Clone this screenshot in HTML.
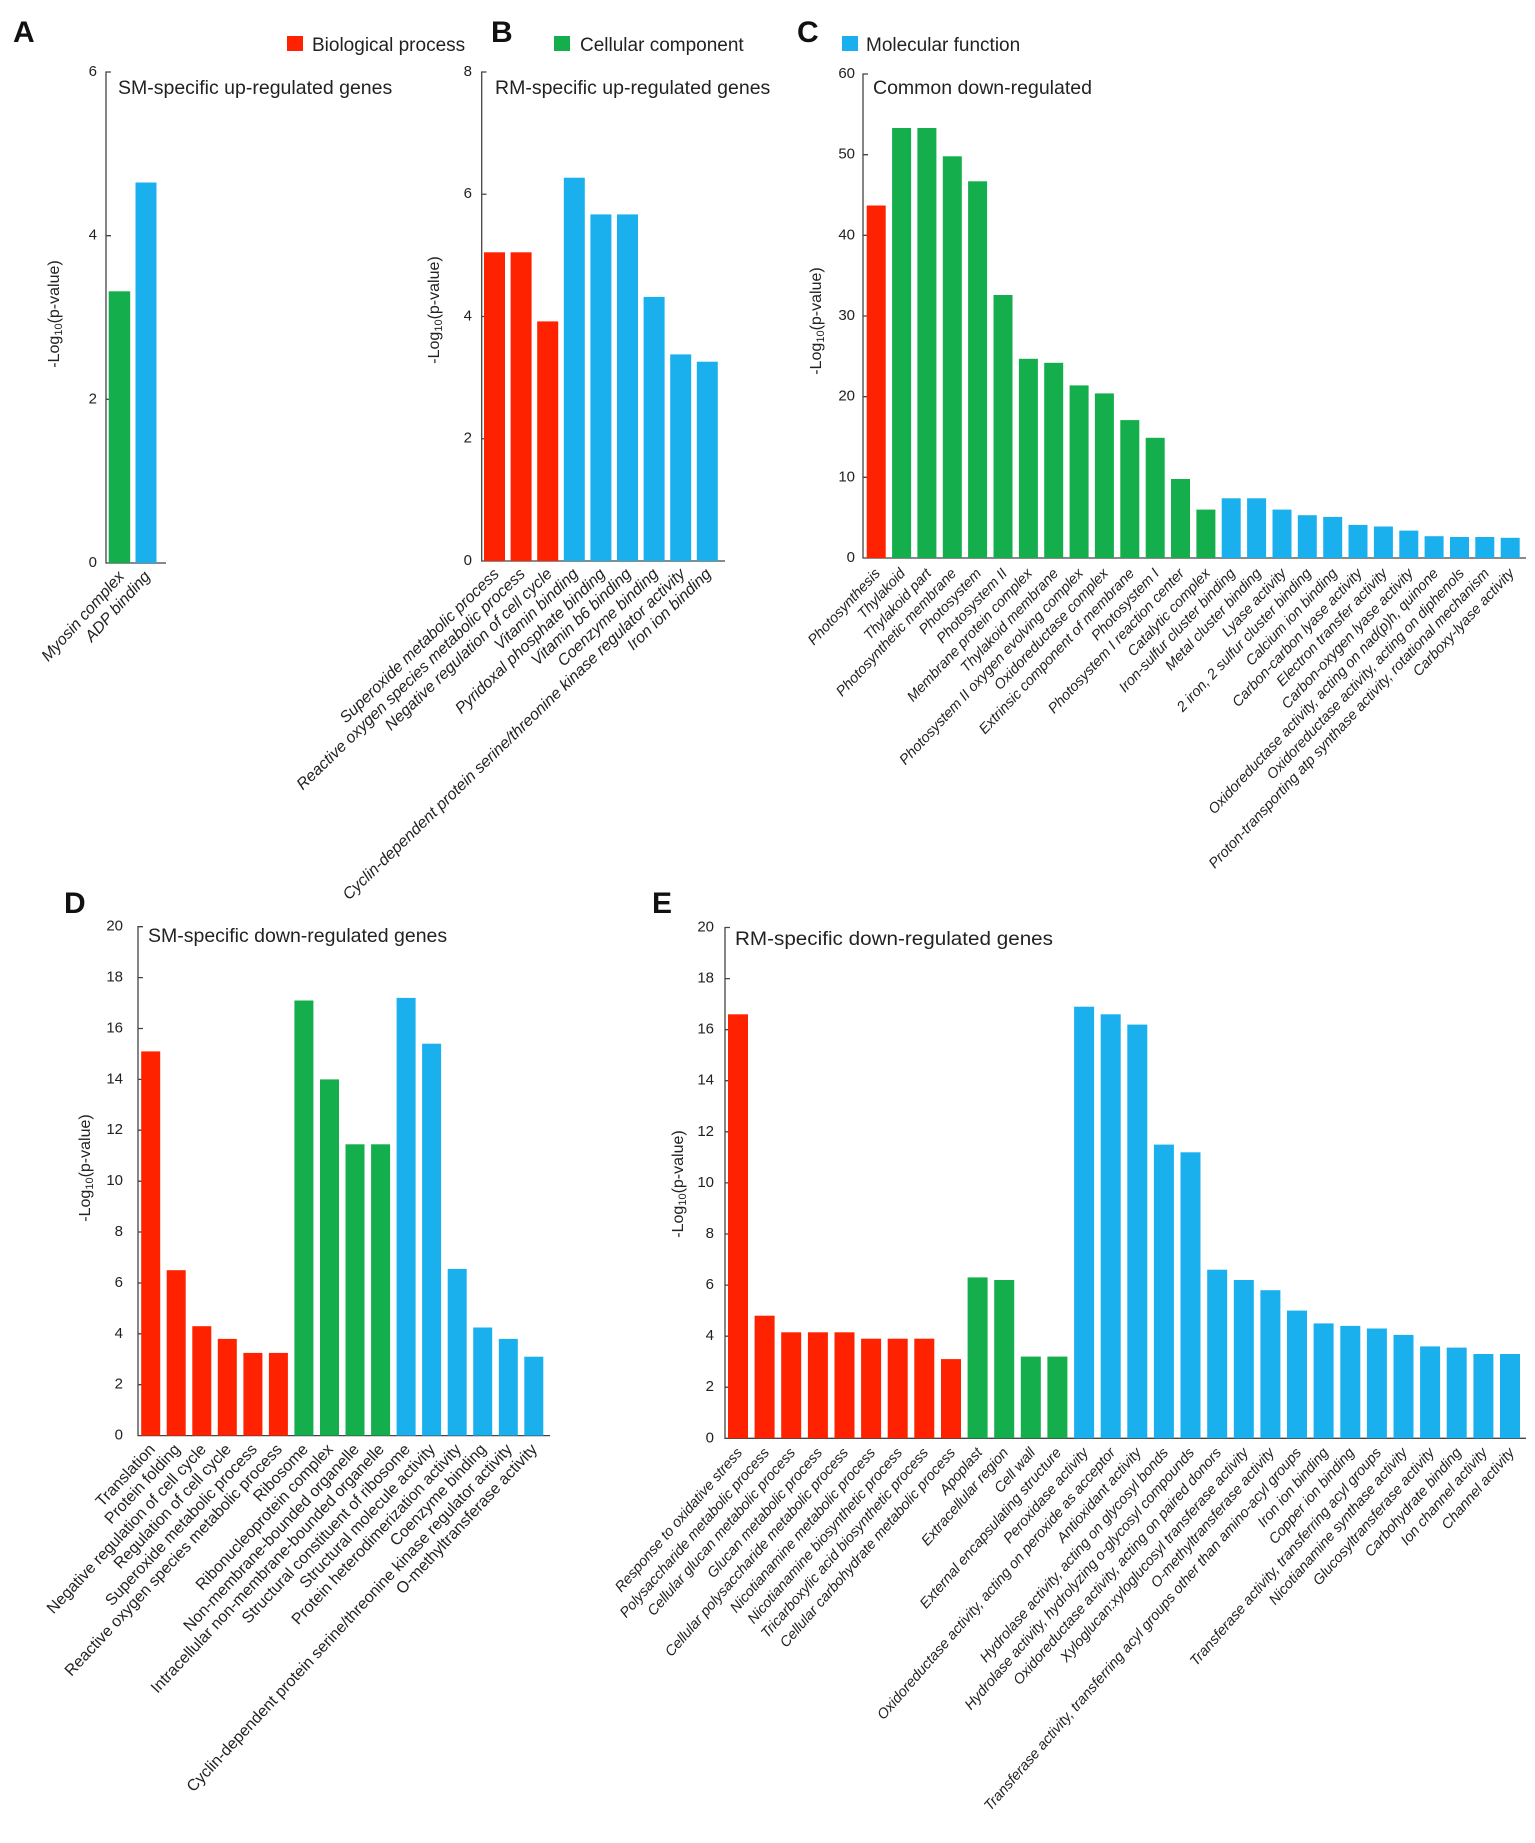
<!DOCTYPE html>
<html><head><meta charset="utf-8"><style>
html,body{margin:0;padding:0;background:#fff;}
svg{display:block;font-family:"Liberation Sans",Arial,sans-serif;}
.t{font-size:15px;fill:#222;text-anchor:end;dominant-baseline:middle;}
.ti{font-size:19.5px;fill:#222;}
.yl{font-size:16px;fill:#222;text-anchor:middle;}
.lb{font-size:16px;fill:#222;text-anchor:end;font-style:italic;}
.ln{font-size:16px;fill:#222;text-anchor:end;}
.L{font-size:30px;font-weight:bold;fill:#111;}
.lg{font-size:19px;fill:#222;}
.r{fill:#ff2200}.g{fill:#14ae4c}.b{fill:#1ab0ee}
.ax{stroke:#444;stroke-width:1.3;fill:none;}
</style></head><body>
<svg width="1535" height="1843" viewBox="0 0 1535 1843" xmlns="http://www.w3.org/2000/svg">
<text class="L" x="13" y="42">A</text>
<text class="L" x="491" y="42">B</text>
<text class="L" x="797" y="42">C</text>
<text class="L" x="64" y="913">D</text>
<text class="L" x="652" y="913">E</text>
<rect class="r" x="287" y="36" width="16" height="15"/><text class="lg" x="312" y="51">Biological process</text>
<rect class="g" x="554" y="36" width="16" height="15"/><text class="lg" x="580" y="51">Cellular component</text>
<rect class="b" x="842" y="36" width="16" height="15"/><text class="lg" x="866" y="51">Molecular function</text>

<!-- Panel A -->
<path class="ax" d="M111 72H106V563H166M106 235.7H111M106 399.3H111"/>
<text class="t" x="97" y="72">6</text><text class="t" x="97" y="235.7">4</text><text class="t" x="97" y="399.3">2</text><text class="t" x="97" y="563">0</text>
<text class="ti" x="118" y="94">SM-specific up-regulated genes</text>
<text class="yl" transform="translate(59,314) rotate(-90)">-Log<tspan font-size="11" dy="3">10</tspan><tspan dy="-3">(p-value)</tspan></text>
<rect class="g" x="108.7" y="291.3" width="21.5" height="271.7"/>
<rect class="b" x="135.5" y="182.5" width="21" height="380.5"/>
<text class="lb" transform="translate(125,577) rotate(-48)">Myosin complex</text>
<text class="lb" transform="translate(151,577) rotate(-48)">ADP binding</text>

<!-- Panel B -->
<path class="ax" d="M486.5 72H481.7V561H725M481.7 194.25H486.5M481.7 316.5H486.5M481.7 438.75H486.5"/>
<text class="t" x="472" y="72">8</text><text class="t" x="472" y="194.25">6</text><text class="t" x="472" y="316.5">4</text><text class="t" x="472" y="438.75">2</text><text class="t" x="472" y="561">0</text>
<text class="ti" x="495" y="94">RM-specific up-regulated genes</text>
<text class="yl" transform="translate(439,310) rotate(-90)">-Log<tspan font-size="11" dy="3">10</tspan><tspan dy="-3">(p-value)</tspan></text>
<rect class="r" x="484" y="252.3" width="21" height="308.7"/>
<rect class="r" x="510.6" y="252.3" width="21" height="308.7"/>
<rect class="r" x="537.2" y="321.4" width="21" height="239.6"/>
<rect class="b" x="563.8" y="177.7" width="21" height="383.3"/>
<rect class="b" x="590.4" y="214.4" width="21" height="346.6"/>
<rect class="b" x="617" y="214.4" width="21" height="346.6"/>
<rect class="b" x="643.6" y="296.9" width="21" height="264.1"/>
<rect class="b" x="670.2" y="354.4" width="21" height="206.6"/>
<rect class="b" x="696.8" y="361.7" width="21" height="199.3"/>
<text class="lb" transform="translate(500,575) rotate(-44)">Superoxide metabolic process</text>
<text class="lb" transform="translate(526,575) rotate(-44)">Reactive oxygen species metabolic process</text>
<text class="lb" transform="translate(553,575) rotate(-44)">Negative regulation of cell cycle</text>
<text class="lb" transform="translate(579,575) rotate(-44)">Vitamin binding</text>
<text class="lb" transform="translate(606,575) rotate(-44)">Pyridoxal phosphate binding</text>
<text class="lb" transform="translate(632,575) rotate(-44)">Vitamin b6 binding</text>
<text class="lb" transform="translate(659,575) rotate(-44)">Coenzyme binding</text>
<text class="lb" transform="translate(686,575) rotate(-44)">Cyclin-dependent protein serine/threonine kinase regulator activity</text>
<text class="lb" transform="translate(712,575) rotate(-44)">Iron ion binding</text>

<!-- Panel C -->
<path class="ax" d="M868 74H863V558H1526M863 154.7H868M863 235.3H868M863 316H868M863 396.7H868M863 477.3H868"/>
<text class="t" x="855" y="74">60</text><text class="t" x="855" y="154.7">50</text><text class="t" x="855" y="235.3">40</text><text class="t" x="855" y="316">30</text><text class="t" x="855" y="396.7">20</text><text class="t" x="855" y="477.3">10</text><text class="t" x="855" y="558">0</text>
<text class="ti" x="873" y="94">Common down-regulated</text>
<text class="yl" transform="translate(821,321) rotate(-90)">-Log<tspan font-size="11" dy="3">10</tspan><tspan dy="-3">(p-value)</tspan></text>
<g>
<rect class="r" x="866.7" y="205.5" width="19" height="352.5"/>
<rect class="g" x="892.1" y="128" width="19" height="430"/>
<rect class="g" x="917.4" y="128" width="19" height="430"/>
<rect class="g" x="942.8" y="156.3" width="19" height="401.7"/>
<rect class="g" x="968.1" y="181.3" width="19" height="376.7"/>
<rect class="g" x="993.5" y="295" width="19" height="263"/>
<rect class="g" x="1018.9" y="358.8" width="19" height="199.2"/>
<rect class="g" x="1044.2" y="362.8" width="19" height="195.2"/>
<rect class="g" x="1069.6" y="385.4" width="19" height="172.6"/>
<rect class="g" x="1094.9" y="393.4" width="19" height="164.6"/>
<rect class="g" x="1120.3" y="420.1" width="19" height="137.9"/>
<rect class="g" x="1145.7" y="437.8" width="19" height="120.2"/>
<rect class="g" x="1171" y="479" width="19" height="79"/>
<rect class="g" x="1196.4" y="509.6" width="19" height="48.4"/>
<rect class="b" x="1221.7" y="498.3" width="19" height="59.7"/>
<rect class="b" x="1247.1" y="498.3" width="19" height="59.7"/>
<rect class="b" x="1272.5" y="509.6" width="19" height="48.4"/>
<rect class="b" x="1297.8" y="515.2" width="19" height="42.8"/>
<rect class="b" x="1323.2" y="516.9" width="19" height="41.1"/>
<rect class="b" x="1348.5" y="524.9" width="19" height="33.1"/>
<rect class="b" x="1373.9" y="526.5" width="19" height="31.5"/>
<rect class="b" x="1399.3" y="530.6" width="19" height="27.4"/>
<rect class="b" x="1424.6" y="536.2" width="19" height="21.8"/>
<rect class="b" x="1450" y="537" width="19" height="21"/>
<rect class="b" x="1475.3" y="537" width="19" height="21"/>
<rect class="b" x="1500.7" y="537.8" width="19" height="20.2"/>
</g>
<g style="font-size:14.5px">
<text class="lb" style="font-size:14.5px" transform="translate(881,574) rotate(-47)">Photosynthesis</text>
<text class="lb" style="font-size:14.5px" transform="translate(906,574) rotate(-47)">Thylakoid</text>
<text class="lb" style="font-size:14.5px" transform="translate(932,574) rotate(-47)">Thylakoid part</text>
<text class="lb" style="font-size:14.5px" transform="translate(957,574) rotate(-47)">Photosynthetic membrane</text>
<text class="lb" style="font-size:14.5px" transform="translate(982,574) rotate(-47)">Photosystem</text>
<text class="lb" style="font-size:14.5px" transform="translate(1008,574) rotate(-47)">Photosystem II</text>
<text class="lb" style="font-size:14.5px" transform="translate(1033,574) rotate(-47)">Membrane protein complex</text>
<text class="lb" style="font-size:14.5px" transform="translate(1059,574) rotate(-47)">Thylakoid membrane</text>
<text class="lb" style="font-size:14.5px" transform="translate(1084,574) rotate(-47)">Photosystem II oxygen evolving complex</text>
<text class="lb" style="font-size:14.5px" transform="translate(1109,574) rotate(-47)">Oxidoreductase complex</text>
<text class="lb" style="font-size:14.5px" transform="translate(1135,574) rotate(-47)">Extrinsic component of membrane</text>
<text class="lb" style="font-size:14.5px" transform="translate(1160,574) rotate(-47)">Photosystem I</text>
<text class="lb" style="font-size:14.5px" transform="translate(1185,574) rotate(-47)">Photosystem I reaction center</text>
<text class="lb" style="font-size:14.5px" transform="translate(1211,574) rotate(-47)">Catalytic complex</text>
<text class="lb" style="font-size:14.5px" transform="translate(1236,574) rotate(-47)">Iron-sulfur cluster binding</text>
<text class="lb" style="font-size:14.5px" transform="translate(1262,574) rotate(-47)">Metal cluster binding</text>
<text class="lb" style="font-size:14.5px" transform="translate(1287,574) rotate(-47)">Lyase activity</text>
<text class="lb" style="font-size:14.5px" transform="translate(1312,574) rotate(-47)">2 iron, 2 sulfur cluster binding</text>
<text class="lb" style="font-size:14.5px" transform="translate(1338,574) rotate(-47)">Calcium ion binding</text>
<text class="lb" style="font-size:14.5px" transform="translate(1363,574) rotate(-47)">Carbon-carbon lyase activity</text>
<text class="lb" style="font-size:14.5px" transform="translate(1388,574) rotate(-47)">Electron transfer activity</text>
<text class="lb" style="font-size:14.5px" transform="translate(1414,574) rotate(-47)">Carbon-oxygen lyase activity</text>
<text class="lb" style="font-size:14.5px" transform="translate(1439,574) rotate(-47)">Oxidoreductase activity, acting on nad(p)h, quinone</text>
<text class="lb" style="font-size:14.5px" transform="translate(1465,574) rotate(-47)">Oxidoreductase activity, acting on diphenols</text>
<text class="lb" style="font-size:14.5px" transform="translate(1490,574) rotate(-47)">Proton-transporting atp synthase activity, rotational mechanism</text>
<text class="lb" style="font-size:14.5px" transform="translate(1515,574) rotate(-47)">Carboxy-lyase activity</text>
</g>

<!-- Panel D -->
<path class="ax" d="M143 926.7H138V1435.6H550M138 977.6H143M138 1028.5H143M138 1079.4H143M138 1130.2H143M138 1181.2H143M138 1232H143M138 1283H143M138 1333.8H143M138 1384.7H143"/>
<text class="t" x="123" y="926.7">20</text><text class="t" x="123" y="977.6">18</text><text class="t" x="123" y="1028.5">16</text><text class="t" x="123" y="1079.4">14</text><text class="t" x="123" y="1130.2">12</text><text class="t" x="123" y="1181.2">10</text><text class="t" x="123" y="1232">8</text><text class="t" x="123" y="1283">6</text><text class="t" x="123" y="1333.8">4</text><text class="t" x="123" y="1384.7">2</text><text class="t" x="123" y="1435.6">0</text>
<text class="ti" x="148" y="942">SM-specific down-regulated genes</text>
<text class="yl" transform="translate(90,1168) rotate(-90)">-Log<tspan font-size="11" dy="3">10</tspan><tspan dy="-3">(p-value)</tspan></text>
<rect class="r" x="141.2" y="1051.4" width="19" height="384.2"/>
<rect class="r" x="166.7" y="1270.2" width="19" height="165.4"/>
<rect class="r" x="192.3" y="1326.2" width="19" height="109.4"/>
<rect class="r" x="217.8" y="1338.9" width="19" height="96.7"/>
<rect class="r" x="243.4" y="1352.9" width="19" height="82.7"/>
<rect class="r" x="268.9" y="1352.9" width="19" height="82.7"/>
<rect class="g" x="294.4" y="1000.5" width="19" height="435.1"/>
<rect class="g" x="320" y="1079.4" width="19" height="356.2"/>
<rect class="g" x="345.5" y="1144.3" width="19" height="291.3"/>
<rect class="g" x="371.1" y="1144.3" width="19" height="291.3"/>
<rect class="b" x="396.6" y="997.9" width="19" height="437.7"/>
<rect class="b" x="422.1" y="1043.7" width="19" height="391.9"/>
<rect class="b" x="447.7" y="1268.9" width="19" height="166.7"/>
<rect class="b" x="473.2" y="1327.5" width="19" height="108.1"/>
<rect class="b" x="498.8" y="1338.9" width="19" height="96.7"/>
<rect class="b" x="524.3" y="1356.7" width="19" height="78.9"/>
<text class="ln" transform="translate(156,1450) rotate(-47)">Translation</text>
<text class="ln" transform="translate(181,1450) rotate(-47)">Protein folding</text>
<text class="ln" transform="translate(207,1450) rotate(-47)">Negative regulation of cell cycle</text>
<text class="ln" transform="translate(232,1450) rotate(-47)">Regulation of cell cycle</text>
<text class="ln" transform="translate(258,1450) rotate(-47)">Superoxide metabolic process</text>
<text class="ln" transform="translate(283,1450) rotate(-47)">Reactive oxygen species metabolic process</text>
<text class="ln" transform="translate(309,1450) rotate(-47)">Ribosome</text>
<text class="ln" transform="translate(334,1450) rotate(-47)">Ribonucleoprotein complex</text>
<text class="ln" transform="translate(360,1450) rotate(-47)">Non-membrane-bounded organelle</text>
<text class="ln" transform="translate(385,1450) rotate(-47)">Intracellular non-membrane-bounded organelle</text>
<text class="ln" transform="translate(411,1450) rotate(-47)">Structural constituent of ribosome</text>
<text class="ln" transform="translate(436,1450) rotate(-47)">Structural molecule activity</text>
<text class="ln" transform="translate(462,1450) rotate(-47)">Protein heterodimerization activity</text>
<text class="ln" transform="translate(487,1450) rotate(-47)">Coenzyme binding</text>
<text class="ln" transform="translate(513,1450) rotate(-47)">Cyclin-dependent protein serine/threonine kinase regulator activity</text>
<text class="ln" transform="translate(538,1450) rotate(-47)">O-methyltransferase activity</text>

<!-- Panel E -->
<path class="ax" d="M730 927.5H725V1438.3H1526M725 978.6H730M725 1029.7H730M725 1080.7H730M725 1131.8H730M725 1182.9H730M725 1234H730M725 1285.1H730M725 1336.2H730M725 1387.2H730"/>
<text class="t" x="714" y="927.5">20</text><text class="t" x="714" y="978.6">18</text><text class="t" x="714" y="1029.7">16</text><text class="t" x="714" y="1080.7">14</text><text class="t" x="714" y="1131.8">12</text><text class="t" x="714" y="1182.9">10</text><text class="t" x="714" y="1234">8</text><text class="t" x="714" y="1285.1">6</text><text class="t" x="714" y="1336.2">4</text><text class="t" x="714" y="1387.2">2</text><text class="t" x="714" y="1438.3">0</text>
<text class="ti" x="735" y="945" textLength="318" lengthAdjust="spacingAndGlyphs">RM-specific down-regulated genes</text>
<text class="yl" transform="translate(683,1184) rotate(-90)">-Log<tspan font-size="11" dy="3">10</tspan><tspan dy="-3">(p-value)</tspan></text>
<rect class="r" x="728" y="1014.3" width="20" height="424"/>
<rect class="r" x="754.6" y="1315.7" width="20" height="122.6"/>
<rect class="r" x="781.2" y="1332.3" width="20" height="106"/>
<rect class="r" x="807.9" y="1332.3" width="20" height="106"/>
<rect class="r" x="834.5" y="1332.3" width="20" height="106"/>
<rect class="r" x="861.1" y="1338.7" width="20" height="99.6"/>
<rect class="r" x="887.7" y="1338.7" width="20" height="99.6"/>
<rect class="r" x="914.3" y="1338.7" width="20" height="99.6"/>
<rect class="r" x="941" y="1359.1" width="20" height="79.2"/>
<rect class="g" x="967.6" y="1277.4" width="20" height="160.9"/>
<rect class="g" x="994.2" y="1280" width="20" height="158.3"/>
<rect class="g" x="1020.8" y="1356.6" width="20" height="81.7"/>
<rect class="g" x="1047.4" y="1356.6" width="20" height="81.7"/>
<rect class="b" x="1074.1" y="1006.7" width="20" height="431.6"/>
<rect class="b" x="1100.7" y="1014.3" width="20" height="424"/>
<rect class="b" x="1127.3" y="1024.6" width="20" height="413.7"/>
<rect class="b" x="1153.9" y="1144.6" width="20" height="293.7"/>
<rect class="b" x="1180.5" y="1152.3" width="20" height="286"/>
<rect class="b" x="1207.2" y="1269.7" width="20" height="168.6"/>
<rect class="b" x="1233.8" y="1280" width="20" height="158.3"/>
<rect class="b" x="1260.4" y="1290.2" width="20" height="148.1"/>
<rect class="b" x="1287" y="1310.6" width="20" height="127.7"/>
<rect class="b" x="1313.6" y="1323.4" width="20" height="114.9"/>
<rect class="b" x="1340.3" y="1325.9" width="20" height="112.4"/>
<rect class="b" x="1366.9" y="1328.5" width="20" height="109.8"/>
<rect class="b" x="1393.5" y="1334.9" width="20" height="103.4"/>
<rect class="b" x="1420.1" y="1346.4" width="20" height="91.9"/>
<rect class="b" x="1446.7" y="1347.6" width="20" height="90.7"/>
<rect class="b" x="1473.4" y="1354" width="20" height="84.3"/>
<rect class="b" x="1500" y="1354" width="20" height="84.3"/>
<g>
<text class="lb" style="font-size:14.5px" transform="translate(743,1453) rotate(-49)">Response to oxidative stress</text>
<text class="lb" style="font-size:14.5px" transform="translate(770,1453) rotate(-49)">Polysaccharide metabolic process</text>
<text class="lb" style="font-size:14.5px" transform="translate(796,1453) rotate(-49)">Cellular glucan metabolic process</text>
<text class="lb" style="font-size:14.5px" transform="translate(823,1453) rotate(-49)">Glucan metabolic process</text>
<text class="lb" style="font-size:14.5px" transform="translate(849,1453) rotate(-49)">Cellular polysaccharide metabolic process</text>
<text class="lb" style="font-size:14.5px" transform="translate(876,1453) rotate(-49)">Nicotianamine metabolic process</text>
<text class="lb" style="font-size:14.5px" transform="translate(903,1453) rotate(-49)">Nicotianamine biosynthetic process</text>
<text class="lb" style="font-size:14.5px" transform="translate(929,1453) rotate(-49)">Tricarboxylic acid biosynthetic process</text>
<text class="lb" style="font-size:14.5px" transform="translate(956,1453) rotate(-49)">Cellular carbohydrate metabolic process</text>
<text class="lb" style="font-size:14.5px" transform="translate(983,1453) rotate(-49)">Apoplast</text>
<text class="lb" style="font-size:14.5px" transform="translate(1009,1453) rotate(-49)">Extracellular region</text>
<text class="lb" style="font-size:14.5px" transform="translate(1036,1453) rotate(-49)">Cell wall</text>
<text class="lb" style="font-size:14.5px" transform="translate(1062,1453) rotate(-49)">External encapsulating structure</text>
<text class="lb" style="font-size:14.5px" transform="translate(1089,1453) rotate(-49)">Peroxidase activity</text>
<text class="lb" style="font-size:14.5px" transform="translate(1116,1453) rotate(-49)">Oxidoreductase activity, acting on peroxide as acceptor</text>
<text class="lb" style="font-size:14.5px" transform="translate(1142,1453) rotate(-49)">Antioxidant activity</text>
<text class="lb" style="font-size:14.5px" transform="translate(1169,1453) rotate(-49)">Hydrolase activity, acting on glycosyl bonds</text>
<text class="lb" style="font-size:14.5px" transform="translate(1195,1453) rotate(-49)">Hydrolase activity, hydrolyzing o-glycosyl compounds</text>
<text class="lb" style="font-size:14.5px" transform="translate(1222,1453) rotate(-49)">Oxidoreductase activity, acting on paired donors</text>
<text class="lb" style="font-size:14.5px" transform="translate(1249,1453) rotate(-49)">Xyloglucan:xyloglucosyl transferase activity</text>
<text class="lb" style="font-size:14.5px" transform="translate(1275,1453) rotate(-49)">O-methyltransferase activity</text>
<text class="lb" style="font-size:14.5px" transform="translate(1302,1453) rotate(-49)">Transferase activity, transferring acyl groups other than amino-acyl groups</text>
<text class="lb" style="font-size:14.5px" transform="translate(1329,1453) rotate(-49)">Iron ion binding</text>
<text class="lb" style="font-size:14.5px" transform="translate(1355,1453) rotate(-49)">Copper ion binding</text>
<text class="lb" style="font-size:14.5px" transform="translate(1382,1453) rotate(-49)">Transferase activity, transferring acyl groups</text>
<text class="lb" style="font-size:14.5px" transform="translate(1408,1453) rotate(-49)">Nicotianamine synthase activity</text>
<text class="lb" style="font-size:14.5px" transform="translate(1435,1453) rotate(-49)">Glucosyltransferase activity</text>
<text class="lb" style="font-size:14.5px" transform="translate(1462,1453) rotate(-49)">Carbohydrate binding</text>
<text class="lb" style="font-size:14.5px" transform="translate(1488,1453) rotate(-49)">Ion channel activity</text>
<text class="lb" style="font-size:14.5px" transform="translate(1515,1453) rotate(-49)">Channel activity</text>
</g>
</svg>
</body></html>
